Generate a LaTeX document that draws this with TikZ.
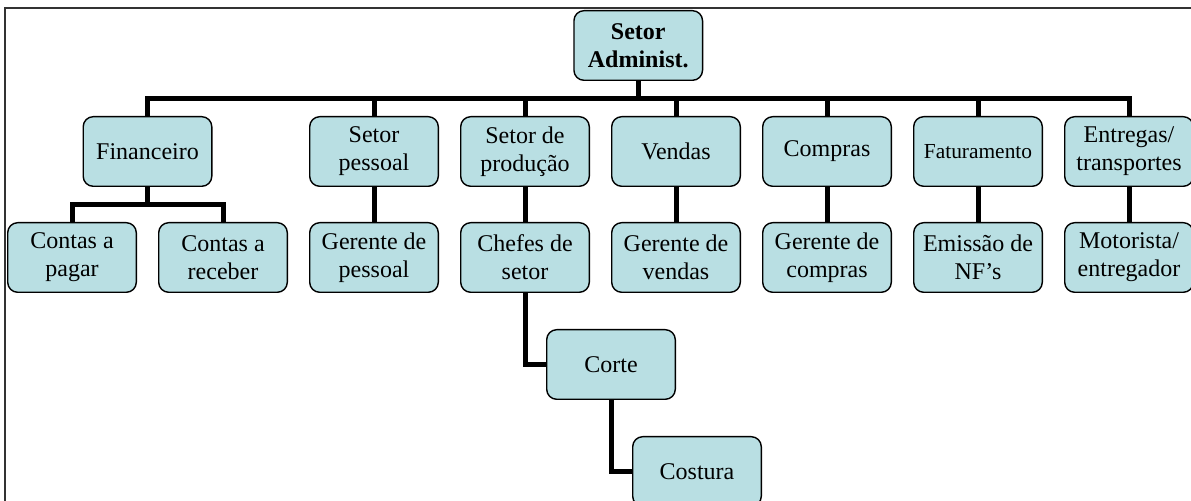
\documentclass[tikz,border=0pt]{standalone}
\usepackage{fontspec}
\setmainfont{Liberation Serif}
\usepackage{xcolor}
\definecolor{BoxTeal}{HTML}{B9DFE3}
\definecolor{FrameGray}{HTML}{333333}
\usetikzlibrary{positioning,calc}

\begin{document}
\begin{tikzpicture}[node distance=17.5pt and 10.5pt, every node/.style={font=\fontsize{12}{14}\selectfont, align=center}, orgbox/.style={draw, line width=0.7pt, fill=BoxTeal, rounded corners=5pt, minimum width=64.3pt, minimum height=34.8pt, inner sep=2pt}, link/.style={line width=2.5pt}]
        \useasboundingbox (0,0) rectangle (595.5pt,-250.5pt);
        \draw[FrameGray, line width=0.8pt] (2.5pt,-251pt) -- (2.5pt,-4pt) -- (596pt,-4pt);
        % lower row
        \node[orgbox] (pagar) at (36pt,-128.75pt) {Contas a\\pagar};
        \node[orgbox, right=of pagar] (receber) {Contas a\\receber};
        \node[orgbox, right=of receber] (gpessoal) {Gerente de\\pessoal};
        \node[orgbox, right=of gpessoal] (chefes) {Chefes de\\setor};
        \node[orgbox, right=of chefes] (gvendas) {Gerente de\\vendas};
        \node[orgbox, right=of gvendas] (gcompras) {Gerente de\\compras};
        \node[orgbox, right=of gcompras] (emissao) {Emissão de\\NF’s};
        \node[orgbox, right=of emissao] (motorista) {Motorista/\\entregador};
        \node[orgbox, below=18pt of chefes, xshift=43pt] (corte) {Corte};
        \node[orgbox, below=18pt of corte, xshift=43pt] (costura) {Costura};
        % upper row
        \coordinate (finmid) at ($(pagar.north)!0.5!(receber.north)$);
        \node[orgbox, above=of finmid] (fin) {Financeiro};
        \node[orgbox, above=of gpessoal] (pessoal) {Setor\\pessoal};
        \node[orgbox, above=of chefes] (producao) {Setor de\\produção};
        \node[orgbox, above=of gvendas] (vendas) {Vendas};
        \node[orgbox, above=of gcompras] (compras) {Compras};
        \node[orgbox, above=of emissao, font=\fontsize{10.7}{14}\selectfont] (fatur) {Faturamento};
        \node[orgbox, above=of motorista] (entregas) {Entregas/\\transportes};
        \coordinate (topmid) at ($(fin.north)!0.5!(entregas.north)$);
        \node[orgbox, above=of topmid, font=\fontsize{12}{14}\selectfont\bfseries] (admin) {Setor\\Administ.};
        % connectors
        \foreach \n in {fin,pessoal,producao,vendas,compras,fatur,entregas}
            \draw[link] (admin.south) -- ++(0,-8.75pt) -| (\n.north);
        \foreach \n in {pagar,receber}
            \draw[link] (fin.south) -- ++(0,-8.75pt) -| (\n.north);
        \draw[link] (pessoal.south) -- (gpessoal.north);
        \draw[link] (producao.south) -- (chefes.north);
        \draw[link] (vendas.south) -- (gvendas.north);
        \draw[link] (compras.south) -- (gcompras.north);
        \draw[link] (fatur.south) -- (emissao.north);
        \draw[link] (entregas.south) -- (motorista.north);
        \draw[link] (chefes.south) |- (corte.west);
        \draw[link] (corte.south) |- (costura.west);
    \end{tikzpicture}
\end{document}
